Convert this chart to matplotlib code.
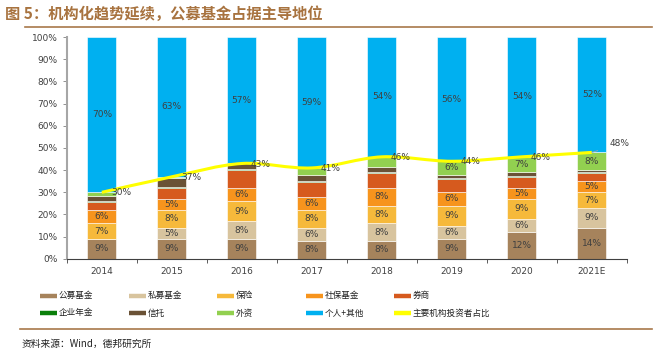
import matplotlib
matplotlib.use("Agg")
import matplotlib.pyplot as plt
from matplotlib.lines import Line2D
from matplotlib.path import Path
from matplotlib.patches import PathPatch
import numpy as np

plt.rcParams['font.family'] = ['Noto Sans CJK SC', 'DejaVu Sans']

# data (share of A-share holdings, %)
years = ["2014", "2015", "2016", "2017", "2018", "2019", "2020", "2021E"]
gongmu = [9, 9, 9, 8, 8, 9, 12, 14]        # 公募基金
simu = [0, 5, 8, 6, 8, 6, 6, 9]            # 私募基金
baoxian = [7, 8, 9, 8, 8, 9, 9, 7]         # 保险
shebao = [6, 5, 6, 6, 8, 6, 5, 5]          # 社保基金
quanshang = [3.5, 5, 8, 6.5, 6.5, 6, 5, 3.5]   # 券商
nianjin = [0.5, 0.5, 0.6, 0.5, 0.5, 0.5, 0.5, 0.5]  # 企业年金
xintuo = [2.5, 4, 2.4, 3, 2.5, 1.5, 1.5, 1]  # 信托
waizi = [1.5, 0.5, 0, 3, 4.5, 6, 7, 8]     # 外资
geren = [70, 63, 57, 59, 54, 56, 54, 52]   # 个人+其他
jigou = [30, 37, 43, 41, 46, 44, 46, 48]   # 主要机构投资者占比

names = ["公募基金", "私募基金", "保险", "社保基金", "券商",
         "企业年金", "信托", "外资", "个人+其他"]
series = [gongmu, simu, baoxian, shebao, quanshang, nianjin, xintuo, waizi, geren]
colors = ["#A6835C", "#D8C49E", "#F6B93B", "#F7941D", "#D65A1E",
          "#0A7F0A", "#6A5236", "#92D050", "#00B0F0"]
no_label = {"券商", "企业年金", "信托"}
line_color = "#FFFF00"
brown = "#A8784A"

fig = plt.figure(figsize=(6.55, 3.6), dpi=100)
ax = fig.add_axes([0.102, 0.281, 0.855, 0.616])

x = np.arange(len(years))
bottom = np.zeros(len(years))
for name, vals, c in zip(names, series, colors):
    vals = np.array(vals, dtype=float)
    ax.bar(x, vals, 0.41, bottom=bottom, color=c, edgecolor="white", linewidth=0.4, zorder=2)
    if name not in no_label:
        for xi, b, v in zip(x, bottom, vals):
            if v >= 5:
                ax.text(xi, b + v / 2, f"{v:.0f}%", ha="center", va="center",
                        fontsize=6.5, color="#404040", family="DejaVu Sans", zorder=4)
    bottom += vals

# smooth yellow line (bezier through the points, like excel smoothing)
pts = np.column_stack([x, jigou]).astype(float)
ext = np.vstack([pts[0], pts, pts[-1]])
verts = [tuple(pts[0])]
codes = [Path.MOVETO]
for i in range(len(pts) - 1):
    p0, p1, p2, p3 = ext[i], ext[i + 1], ext[i + 2], ext[i + 3]
    c1 = p1 + (p2 - p0) / 6
    c2 = p2 - (p3 - p1) / 6
    verts += [tuple(c1), tuple(c2), tuple(p2)]
    codes += [Path.CURVE4] * 3
ax.add_patch(PathPatch(Path(verts, codes), facecolor="none", edgecolor=line_color,
                       linewidth=2.2, zorder=3))

for xi, v in zip(x[:-1], jigou[:-1]):
    ax.text(xi + 0.13, v - 0.3, f"{v}%", ha="left", va="center", fontsize=6.5,
            color="#404040", family="DejaVu Sans", zorder=5)
ax.annotate(f"{jigou[-1]}%", xy=(x[-1], jigou[-1]), xytext=(x[-1] + 0.4, jigou[-1] + 3.8),
            fontsize=6.5, color="#404040", family="DejaVu Sans", ha="center", va="center",
            arrowprops=dict(arrowstyle="-", color="#A6A6A6", lw=0.6, shrinkA=7, shrinkB=0))

ax.set_xlim(-0.5, len(years) - 0.5)
ax.set_ylim(0, 100)
ax.set_yticks(np.arange(0, 101, 10))
ax.set_yticklabels([f"{t}%" for t in range(0, 101, 10)], family="DejaVu Sans")
ax.set_xticks(x)
ax.set_xticklabels(years, family="DejaVu Sans")
ax.set_xticks(np.arange(-0.5, len(years), 1), minor=True)
ax.tick_params(axis="x", which="major", length=0, labelsize=6.5, colors="#404040", pad=6)
ax.tick_params(axis="x", which="minor", length=3, color="#404040")
ax.tick_params(axis="y", labelsize=6.5, colors="#404040", length=3, width=0.6)
ax.tick_params(axis="y", color="#808080")
for s in ["top", "right"]:
    ax.spines[s].set_visible(False)
ax.spines["left"].set_color("#A6A6A6")
ax.spines["left"].set_linewidth(1.5)
ax.spines["bottom"].set_color("#404040")
ax.spines["bottom"].set_linewidth(0.8)

# title and rules
fig.text(0.008, 0.962, "图 5：机构化趋势延续，公募基金占据主导地位", fontsize=11,
         fontweight="bold", color="#A8733F", ha="left", va="center")
fig.add_artist(Line2D([0.038, 0.995], [0.925, 0.925], color=brown, lw=1.2))
fig.add_artist(Line2D([0.03, 0.995], [0.086, 0.086], color=brown, lw=1.2))
fig.text(0.033, 0.045, "资料来源：Wind，德邦研究所", fontsize=7, color="#222222",
         ha="left", va="center")

# legend drawn by hand in two rows of five
leg_names = names + ["主要机构投资者占比"]
leg_colors = colors + [line_color]
W, H = 655.0, 360.0
for k in range(len(leg_names)):
    row, col = divmod(k, 5)
    px = 40 + col * 88.5
    py = 295.5 + row * 17.5
    fig.add_artist(Line2D([px / W, (px + 17) / W], [1 - py / H, 1 - py / H],
                          color=leg_colors[k], lw=3.2, solid_capstyle="butt"))
    fig.text((px + 19) / W, 1 - py / H, leg_names[k], fontsize=6.2, color="#222222",
             ha="left", va="center")

fig.savefig("out.png", dpi=100)
